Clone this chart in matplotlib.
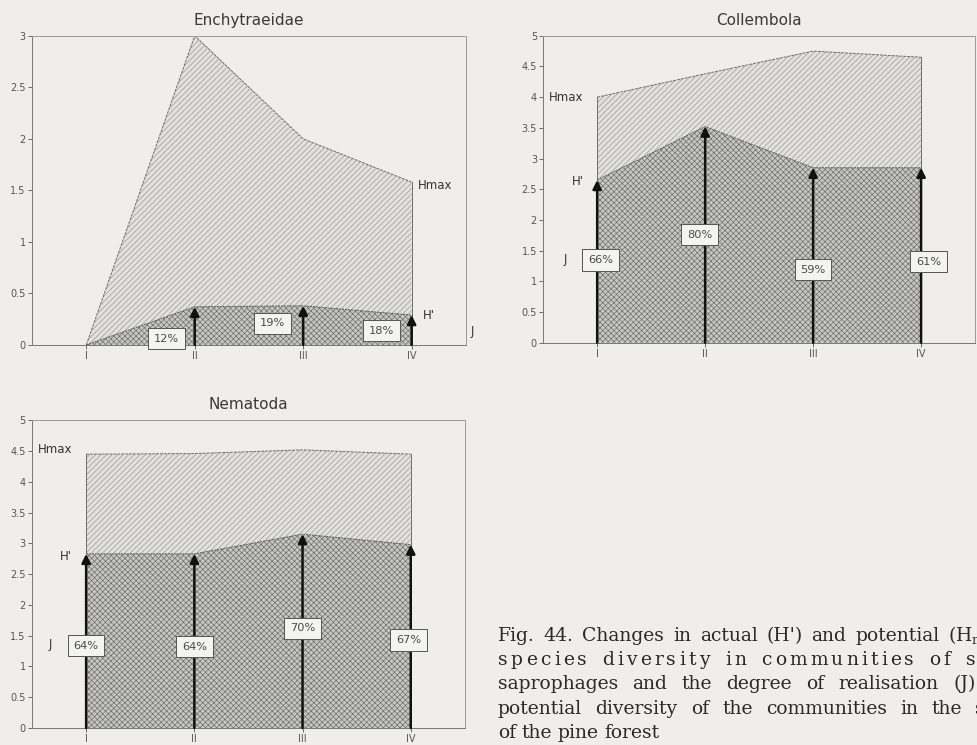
import matplotlib
matplotlib.use('Agg')
import matplotlib.pyplot as plt
from matplotlib.ticker import FuncFormatter

# dados
sites = ['I', 'II', 'III', 'IV']
x_pos = [1, 2, 3, 4]

ench_hmax = [0.0, 3.0, 2.0, 1.58]
ench_h = [0.0, 0.37, 0.38, 0.29]
ench_j = ['', '12%', '19%', '18%']

coll_hmax = [4.0, 4.38, 4.75, 4.65]
coll_h = [2.65, 3.52, 2.85, 2.85]
coll_j = ['66%', '80%', '59%', '61%']

nema_hmax = [4.45, 4.46, 4.52, 4.45]
nema_h = [2.83, 2.83, 3.15, 2.98]
nema_j = ['64%', '64%', '70%', '67%']

caption = ["Fig. 44. Changes in actual (H') and potential (H$_\\mathrm{max}$)",
           "species diversity in communities of soil",
           "saprophages and the degree of realisation (J) of",
           "potential diversity of the communities in the soil",
           "of the pine forest"]

plt.rcParams['font.family'] = ['DejaVu Sans']
plt.rcParams['hatch.linewidth'] = 0.45
plt.rcParams['mathtext.fontset'] = 'dejavuserif'

BG = '#efeeea'
W, H = 977, 745
fig = plt.figure(figsize=(W / 100, H / 100), dpi=100, facecolor=BG)


def painel(rect, titulo, hmax, h, j, ymax, ystep, box_xy, lbl):
    ax = fig.add_axes(rect, facecolor=BG)
    ax.set_xlim(0.5, 4.5)
    ax.set_ylim(0, ymax)
    # área potencial (Hmax)
    ax.fill_between(x_pos, 0, hmax, facecolor='#e2e1dd', edgecolor='#929290',
                    hatch='//////', linewidth=0, zorder=1)
    ax.plot(x_pos, hmax, color='#6e6e6c', lw=0.7, ls=(0, (3, 1)), zorder=2)
    ax.plot([x_pos[-1], x_pos[-1]], [h[-1], hmax[-1]], color='#6e6e6c', lw=0.7, zorder=2)
    if hmax[0] > h[0]:
        ax.plot([x_pos[0], x_pos[0]], [h[0], hmax[0]], color='#6e6e6c', lw=0.7, zorder=2)
    # área real (H')
    ax.fill_between(x_pos, 0, h, facecolor='#c6c6c2', edgecolor='#6a6a68',
                    hatch='xxxxxx', linewidth=0, zorder=3)
    ax.plot(x_pos, h, color='#555553', lw=0.7, ls=(0, (2, 1)), zorder=4)
    ax.plot([x_pos[-1], x_pos[-1]], [0, h[-1]], color='#555553', lw=0.7, zorder=4)

    # setas
    for xi, hi in zip(x_pos, h):
        if hi > 0:
            ax.annotate('', xy=(xi, hi), xytext=(xi, 0),
                        arrowprops=dict(arrowstyle='-|>', color='#111111', lw=1.8,
                                        mutation_scale=13, shrinkA=0, shrinkB=0),
                        zorder=5)
    # caixas com J
    for txt, (bx, by) in zip(j, box_xy):
        if txt:
            ax.text(bx, by, txt, ha='center', va='center', fontsize=8.2, color='#4a4a4a',
                    zorder=6, bbox=dict(boxstyle='square,pad=0.5', fc='#f3f3ef',
                                        ec='#555555', lw=0.7))
    for txt, (tx, ty) in lbl.items():
        ax.text(tx, ty, txt, ha='left', va='center', fontsize=8.5, color='#333333',
                zorder=6, clip_on=False)

    ax.set_xticks(x_pos)
    ax.set_xticklabels(sites)
    ticks = [i * ystep for i in range(int(round(ymax / ystep)) + 1)]
    ax.set_yticks(ticks)
    ax.yaxis.set_major_formatter(FuncFormatter(lambda v, p: f'{v:g}'))
    ax.tick_params(labelsize=7, colors='#555555', length=3, width=0.6, pad=1.5)
    for s in ax.spines.values():
        s.set_color('#9a9a98')
        s.set_linewidth(0.7)
    ax.spines['left'].set_color('#777777')
    ax.spines['bottom'].set_color('#777777')
    ax.set_title(titulo, fontsize=11, color='#3a3a3a', pad=8)
    return ax


painel([0.0328, 0.537, 0.444, 0.415], 'Enchytraeidae', ench_hmax, ench_h, ench_j, 3, 0.5,
       [(0, 0), (1.74, 0.06), (2.72, 0.21), (3.72, 0.14)],
       {'Hmax': (4.06, 1.55), "H'": (4.1, 0.29), 'J': (4.54, 0.13)})

painel([0.556, 0.540, 0.442, 0.412], 'Collembola', coll_hmax, coll_h, coll_j, 5, 0.5,
       [(1.03, 1.35), (1.95, 1.76), (3.0, 1.19), (4.07, 1.32)],
       {'Hmax': (0.55, 4.0), "H'": (0.77, 2.62), 'J': (0.69, 1.35)})

painel([0.0328, 0.0228, 0.443, 0.413], 'Nematoda', nema_hmax, nema_h, nema_j, 5, 0.5,
       [(1.0, 1.34), (2.0, 1.32), (3.0, 1.62), (3.98, 1.43)],
       {'Hmax': (0.55, 4.53), "H'": (0.76, 2.78), 'J': (0.65, 1.35)})

# legenda da figura, justificada (a coluna passa da borda direita, como no original)
r = fig.canvas.get_renderer()
x_esq, x_dir = 498, 1008
espaco_letras = [0, 3.2, 0, 0, 0]   # a 2a linha é espacejada no original


def escreve(txt, y):
    return fig.text(0, 1 - y / H, txt, fontsize=13.5, color='#2a2a2a',
                    family=['DejaVu Serif'], ha='left', va='baseline')


for i, linha in enumerate(caption):
    y = 641 + i * 24.2
    ls = espaco_letras[i]
    palavras = []
    for p in linha.split(' '):
        if ls > 0:
            objs = [escreve(c, y) for c in p]
        else:
            objs = [escreve(p, y)]
        larg = [o.get_window_extent(renderer=r).width for o in objs]
        palavras.append((objs, larg, sum(larg) + ls * (len(objs) - 1)))
    total = sum(p[2] for p in palavras)
    if i < len(caption) - 1:
        gap = (x_dir - x_esq - total) / (len(palavras) - 1)
    else:
        gap = 5.5
    x = x_esq
    for objs, larg, tot in palavras:
        xx = x
        for o, w in zip(objs, larg):
            o.set_x(xx / W)
            xx += w + ls
        x += tot + gap

fig.savefig('out.png', dpi=100, facecolor=BG)
